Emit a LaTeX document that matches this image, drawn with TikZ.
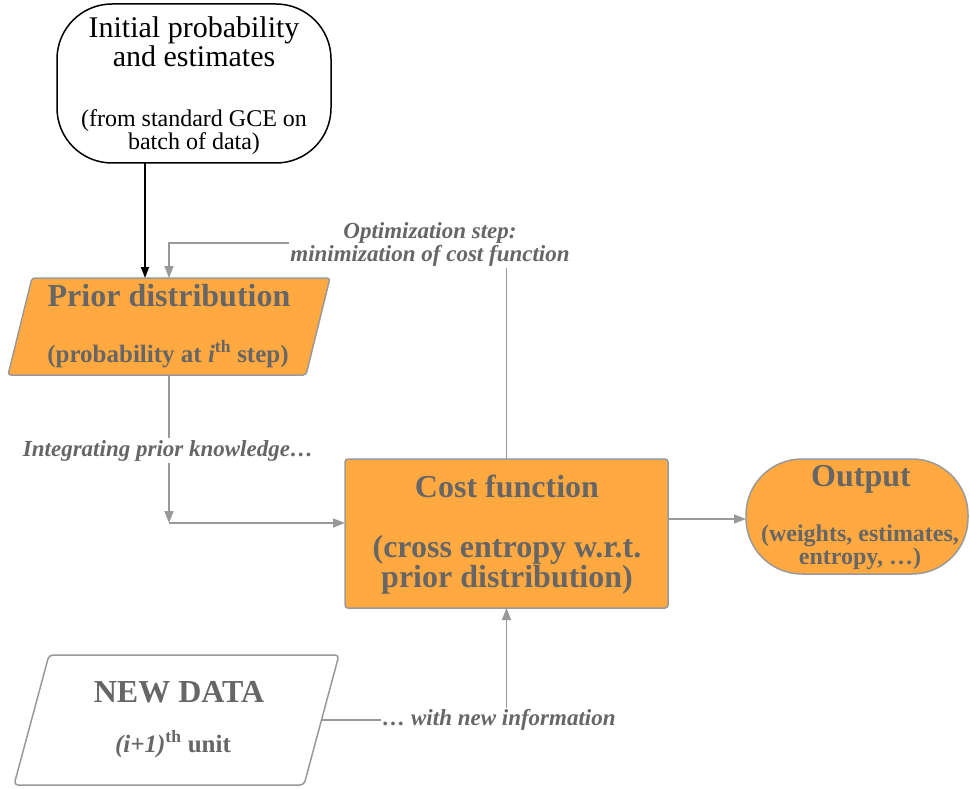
\documentclass[tikz,border=0pt]{standalone}
\usepackage{fontspec}
\setmainfont{Liberation Serif}
\usetikzlibrary{arrows.meta}
\definecolor{orng}{HTML}{FFA940}
\definecolor{lgray}{HTML}{999999}
\definecolor{dgray}{HTML}{666666}
\begin{document}
\begin{tikzpicture}[x=1pt,y=-1pt,
  conn/.style={draw=lgray, line width=1.6pt, -{Triangle[length=12pt,width=9pt]}},
  plainline/.style={draw=lgray, line width=1.6pt},
  shapebox/.style={inner sep=0pt, outer sep=0pt},
  boxstyle/.style={fill=orng, draw=lgray, line width=1.5pt},
  rg/.style={text=black, inner sep=0pt, anchor=base, font=\fontsize{#1}{#1}\selectfont},
  tb/.style={text=dgray, inner sep=0pt, anchor=base, font=\bfseries\fontsize{#1}{#1}\selectfont},
  lb/.style={text=dgray, fill=white, inner sep=1.5pt, anchor=base, font=\bfseries\itshape\fontsize{#1}{#1}\selectfont},
]
\useasboundingbox (0,0) rectangle (970,789);

% shapes
\node[shapebox, draw=black, line width=1.5pt, fill=white, rounded corners=55pt,
      minimum width=274pt, minimum height=159pt] (init) at (194,83.5) {};
\node[shapebox, minimum width=298pt, minimum height=97pt] (prior) at (169,326.5) {};
\draw[boxstyle, rounded corners=3pt]
  ([xshift=-12pt]prior.south west) -- ([xshift=12pt]prior.north west) --
  ([xshift=12pt]prior.north east) -- ([xshift=-12pt]prior.south east) -- cycle;
\node[shapebox, boxstyle, rounded corners=3pt, minimum width=323pt, minimum height=149pt]
  (cost) at (506.5,533.5) {};
\node[shapebox, boxstyle, rounded corners=56pt, minimum width=222pt, minimum height=115pt]
  (out) at (857,516.5) {};
\node[shapebox, minimum width=290pt, minimum height=130pt] (nd) at (176.5,720) {};
\draw[draw=lgray, fill=white, line width=1.5pt, rounded corners=4pt]
  ([xshift=-17.5pt]nd.south west) -- ([xshift=17.5pt]nd.north west) --
  ([xshift=17.5pt]nd.north east) -- ([xshift=-17.5pt]nd.south east) -- cycle;

% texts in shapes
\node[rg=30] (i1) at (194,38) {Initial probability};
\node[rg=30] (i2) at (194,67) {and estimates};
\node[rg=24] (i3) at (194,127) {(from standard GCE on};
\node[rg=24] (i4) at (194,150) {batch of data)};
\node[tb=32] (p1) at (169,306) {Prior distribution};
\node[tb=25] (p2) at (168,362) {(probability at \textit{i}\textsuperscript{th} step)};
\node[tb=32] (c1) at (507,497) {Cost function};
\node[tb=32] (c2) at (507,557) {(cross entropy w.r.t.};
\node[tb=32] (c3) at (507,587) {prior distribution)};
\node[tb=32] (o1) at (861,486) {Output};
\node[tb=24] (o2) at (860,541) {(weights, estimates,};
\node[tb=24] (o3) at (860,564) {entropy, …)};
\node[tb=32] (n1) at (179,702) {NEW DATA};
\node[tb=25] (n2) at (173,752) {\textit{(i+1)}\textsuperscript{th} unit};

% labels
\node[lb=23] (opt1) at (430,238) {Optimization step:};
\node[lb=23] (opt2) at (430,261) {minimization of cost function};
\node[lb=23] (intg) at (168,456) {Integrating prior knowledge…};
\node[lb=23, inner sep=1pt] (wl) at (499,725) {… with new information};

% connector helpers
\coordinate (xa) at (145,0);
\coordinate (xb) at (169,0);
\coordinate (hy) at (0,243);
\coordinate (jn) at (169,523);
\coordinate (oy) at (0,519);

% connectors
\draw[line width=1.5pt, -{Triangle[length=11pt,width=8pt]}] (init.south -| xa) -- (prior.north -| xa);
\draw[plainline] (cost.north) -- (cost.north |- opt2.south);
\draw[conn] (opt2.west |- hy) -| (prior.north -| xb);
\draw[plainline] (prior.south -| xb) -- (intg.north -| xb);
\draw[conn] (intg.south -| xb) -- (jn);
\draw[conn] (jn) -- (jn -| cost.west);
\draw[conn] (cost.east |- oy) -- (out.west |- oy);
\draw[plainline] (nd.east) -- (wl.west |- nd.east);
\draw[conn] (wl.north -| cost.south) -- (cost.south);
\end{tikzpicture}
\end{document}
